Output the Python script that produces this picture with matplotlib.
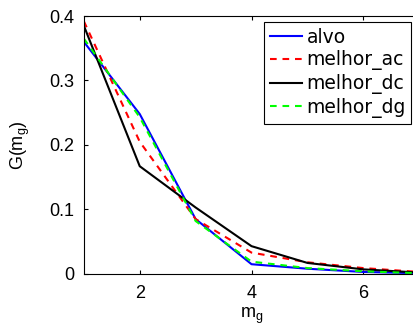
import matplotlib
matplotlib.use("Agg")
import matplotlib.pyplot as plt

# data
mg = [1, 2, 3, 4, 5, 6, 7]
alvo = [0.360, 0.248, 0.085, 0.015, 0.008, 0.003, 0.001]
melhor_ac = [0.392, 0.205, 0.085, 0.033, 0.018, 0.009, 0.003]
melhor_dc = [0.385, 0.167, 0.103, 0.043, 0.017, 0.007, 0.002]
melhor_dg = [0.365, 0.243, 0.082, 0.019, 0.009, 0.004, 0.001]

plt.rcParams['font.family'] = ['Liberation Sans', 'DejaVu Sans']
plt.rcParams['font.size'] = 13

fig = plt.figure(figsize=(4.13, 3.34), dpi=100)
ax = fig.add_axes([0.203, 0.180, 0.812, 0.772])

dash = (0, (3.2, 2.8))
ax.plot(mg, alvo, color='#0000ff', lw=1.5, label='alvo')
ax.plot(mg, melhor_ac, color='#ff0000', lw=1.5, ls=dash, label='melhor_ac')
ax.plot(mg, melhor_dc, color='black', lw=1.5, label='melhor_dc')
ax.plot(mg, melhor_dg, color='#00ff00', lw=1.5, ls=dash, label='melhor_dg')

ax.set_xlim(1, 7)
ax.set_ylim(0, 0.4)
ax.set_xticks([2, 4, 6])
ax.set_yticks([0, 0.1, 0.2, 0.3, 0.4])
ax.set_yticklabels(['0', '0.1', '0.2', '0.3', '0.4'])
ax.tick_params(direction='in', top=True, right=True, length=3, width=0.8)
ax.tick_params(axis='x', pad=8)
ax.tick_params(axis='y', pad=7)
ax.set_xlabel('m$_\\mathregular{g}$', labelpad=3)
ax.set_ylabel('G(m$_\\mathregular{g}$)', labelpad=12)

# legend runs off the right edge like in the original
leg = fig.legend(loc='upper left', bbox_to_anchor=(0.639, 0.934), frameon=True,
                 fancybox=False, edgecolor='black', framealpha=1,
                 prop={'family': 'DejaVu Sans', 'size': 13.5},
                 handlelength=1.75, handletextpad=0.22, borderpad=0.3,
                 labelspacing=0.2, borderaxespad=0)
leg.get_frame().set_linewidth(0.8)

fig.savefig('out.png', dpi=100)
